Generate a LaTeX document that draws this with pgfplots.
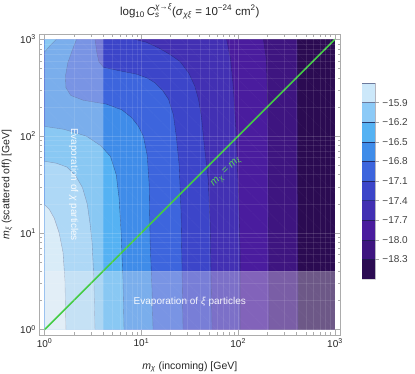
\documentclass[border=0pt]{standalone}
\usepackage{fontspec}
\setmainfont{Liberation Sans}
\usepackage{amsmath}
\usepackage{pgfplots}
\pgfplotsset{compat=1.18}
\usetikzlibrary{patterns.meta}

% band colours, lowest value first
\definecolor{b0}{HTML}{2B0B52}
\definecolor{b1}{HTML}{3E1580}
\definecolor{b2}{HTML}{4A1C9E}
\definecolor{b3}{HTML}{4230B3}
\definecolor{b4}{HTML}{3C45C9}
\definecolor{b5}{HTML}{3D65DD}
\definecolor{b6}{HTML}{3F8CE9}
\definecolor{b7}{HTML}{55B2F3}
\definecolor{b8}{HTML}{8CCAF7}
\definecolor{b9}{HTML}{CCE8FA}
\definecolor{cline}{HTML}{1E1E50}
\definecolor{mgreen}{HTML}{44CC44}

\pgfplotsset{
  cont/.style={draw=cline, draw opacity=0.55, line width=0.35pt},
  band/.style={fill=#1, draw=none},
}

\begin{document}
\begin{tikzpicture}
\useasboundingbox (-39.3pt,-39pt) rectangle (375.7pt,335pt);
\begin{axis}[
  at={(0pt,0pt)}, anchor=south west,
  width=301pt, height=301pt, scale only axis,
  xmin=-0.055, xmax=3.055, ymin=-0.055, ymax=3.055,
  xtick={0,1,2,3}, ytick={0,1,2,3},
  xticklabels={10\textsuperscript{0},10\textsuperscript{1},10\textsuperscript{2},10\textsuperscript{3}},
  yticklabels={10\textsuperscript{0},10\textsuperscript{1},10\textsuperscript{2},10\textsuperscript{3}},
  minor xtick={0.301,0.477,0.602,0.699,0.778,0.845,0.903,0.954,1.301,1.477,1.602,1.699,1.778,1.845,1.903,1.954,2.301,2.477,2.602,2.699,2.778,2.845,2.903,2.954},
  minor ytick={0.301,0.477,0.602,0.699,0.778,0.845,0.903,0.954,1.301,1.477,1.602,1.699,1.778,1.845,1.903,1.954,2.301,2.477,2.602,2.699,2.778,2.845,2.903,2.954},
  tick align=inside, major tick length=5pt, minor tick length=2.8pt,
  axis line style={gray!65}, tick style={gray!65, line width=0.4pt},
  grid=both,
  major grid style={white, opacity=0.16, line width=0.4pt},
  minor grid style={white, opacity=0.10, line width=0.3pt},
  axis on top,
  tick label style={font=\fontsize{10}{12}\selectfont, text=black!85},
  label style={font=\fontsize{10.5}{12}\selectfont, text=black!85},
  xlabel={\textit{m}\textsubscript{\textit{χ}} (incoming) [GeV]},
  ylabel={\textit{m}\textsubscript{\textit{ξ}} (scattered off) [GeV]},
  xlabel style={at={(axis description cs:0.5,-0.113)}, anchor=base},
  ylabel style={at={(axis description cs:-0.107,0.5)}, anchor=center},
  title={log\textsubscript{10}\,\textit{C}$^{\text{\textit{χ}→\textit{ξ}}}_{\text{\textit{s}}}$(\textit{σ}\textsubscript{\textit{χξ}} = 10\textsuperscript{−24} cm\textsuperscript{2})},
  title style={at={(axis description cs:0.5,1.042)}, anchor=base, font=\fontsize{11.5}{13}\selectfont, text=black!85},
]
% filled bands, painted from the lowest level upward
\addplot[band=b0] coordinates {(0,0) (3,0) (3,3) (0,3)};
\addplot[band=b1] coordinates {(0,0) (2.62,0) (2.615,1.5) (2.61,3) (0,3)};
\addplot[band=b2] coordinates {(0,0) (2.32,0) (2.31,1.9) (2.30,2.5) (2.29,2.8) (2.26,3) (0,3)};
\addplot[band=b3] coordinates {(0,0) (2.02,0) (2.02,0.8) (2.00,1.5) (1.98,2.0) (1.95,2.5) (1.92,2.8) (1.88,3) (0,3)};
\addplot[band=b4] coordinates {(0,0) (1.73,0) (1.71,1.1) (1.69,1.55) (1.65,1.9) (1.62,2.2) (1.59,2.38) (1.55,2.52) (1.49,2.65) (1.40,2.77) (1.30,2.84) (1.18,2.91) (1.05,2.97) (0.93,3) (0,3)};
\addplot[band=b5] coordinates {(0,0) (1.43,0) (1.42,0.6) (1.41,1.2) (1.39,1.7) (1.36,2.0) (1.33,2.22) (1.28,2.38) (1.22,2.47) (1.14,2.55) (1.06,2.60) (0.95,2.64) (0.75,2.68) (0.61,2.71) (0.56,2.77) (0.54,2.86) (0.52,3) (0,3)};
\addplot[band=b6] coordinates {(0,0) (1.12,0) (1.11,0.4) (1.09,0.9) (1.08,1.5) (1.06,1.8) (1.02,2.0) (0.97,2.10) (0.90,2.19) (0.80,2.27) (0.64,2.33) (0.40,2.37) (0.27,2.42) (0.22,2.5) (0.215,2.62) (0.24,2.76) (0.29,2.9) (0.33,3) (0,3)};
\addplot[band=b7] coordinates {(0,0) (0.82,0) (0.81,0.5) (0.79,1.0) (0.77,1.35) (0.74,1.6) (0.68,1.79) (0.58,1.9) (0.43,2.0) (0.2,2.07) (0,2.10)};
\addplot[band=b7] coordinates {(0,2.87) (0.06,2.94) (0.12,3) (0,3)};
\addplot[band=b8] coordinates {(0,0) (0.52,0) (0.51,0.5) (0.49,0.9) (0.47,1.09) (0.44,1.3) (0.39,1.47) (0.32,1.59) (0.23,1.68) (0.12,1.72) (0,1.74)};
\addplot[band=b9] coordinates {(0,0) (0.22,0) (0.21,0.5) (0.19,0.8) (0.15,1.0) (0.10,1.15) (0.05,1.24) (0,1.29)};
% contour lines
\addplot[cont] coordinates {(2.61,3) (2.615,1.5) (2.62,0)};
\addplot[cont] coordinates {(2.26,3) (2.29,2.8) (2.30,2.5) (2.31,1.9) (2.32,0)};
\addplot[cont] coordinates {(1.88,3) (1.92,2.8) (1.95,2.5) (1.98,2.0) (2.00,1.5) (2.02,0.8) (2.02,0)};
\addplot[cont] coordinates {(0.93,3) (1.05,2.97) (1.18,2.91) (1.30,2.84) (1.40,2.77) (1.49,2.65) (1.55,2.52) (1.59,2.38) (1.62,2.2) (1.65,1.9) (1.69,1.55) (1.71,1.1) (1.73,0)};
\addplot[cont] coordinates {(0.52,3) (0.54,2.86) (0.56,2.77) (0.61,2.71) (0.75,2.68) (0.95,2.64) (1.06,2.60) (1.14,2.55) (1.22,2.47) (1.28,2.38) (1.33,2.22) (1.36,2.0) (1.39,1.7) (1.41,1.2) (1.42,0.6) (1.43,0)};
\addplot[cont] coordinates {(0.33,3) (0.29,2.9) (0.24,2.76) (0.215,2.62) (0.22,2.5) (0.27,2.42) (0.40,2.37) (0.64,2.33) (0.80,2.27) (0.90,2.19) (0.97,2.10) (1.02,2.0) (1.06,1.8) (1.08,1.5) (1.09,0.9) (1.11,0.4) (1.12,0)};
\addplot[cont] coordinates {(0,2.10) (0.2,2.07) (0.43,2.0) (0.58,1.9) (0.68,1.79) (0.74,1.6) (0.77,1.35) (0.79,1.0) (0.81,0.5) (0.82,0)};
\addplot[cont] coordinates {(0,2.87) (0.06,2.94) (0.12,3)};
\addplot[cont] coordinates {(0,1.74) (0.12,1.72) (0.23,1.68) (0.32,1.59) (0.39,1.47) (0.44,1.3) (0.47,1.09) (0.49,0.9) (0.51,0.5) (0.52,0)};
\addplot[cont] coordinates {(0,1.29) (0.05,1.24) (0.10,1.15) (0.15,1.0) (0.19,0.8) (0.21,0.5) (0.22,0)};
% faint diagonal texture
\addplot[draw=none, pattern={Lines[angle=-45,distance=13pt,line width=0.35pt]}, pattern color=white, fill opacity=0.05] coordinates {(0,0) (3,0) (3,3) (0,3)};
% evaporation regions (m < 4 GeV)
\addplot[fill=gray!8, fill opacity=0.33, draw=none] coordinates {(0,0) (0.602,0) (0.602,3) (0,3)};
\addplot[fill=gray!8, fill opacity=0.33, draw=none] coordinates {(0,0) (3,0) (3,0.602) (0,0.602)};
% m_chi = m_xi
\addplot[mgreen, line width=1.5pt] coordinates {(0,0) (3,3)};
\node[rotate=-90, text=white, text opacity=0.9, font=\fontsize{10}{12}\selectfont] at (axis cs:0.30,1.50) {Evaporation of \textit{χ} particles};
\node[text=white, text opacity=0.9, font=\fontsize{10}{12}\selectfont] at (axis cs:1.50,0.29) {Evaporation of \textit{ξ} particles};
\node[rotate=45, text=mgreen!90!white, font=\fontsize{10.5}{12}\selectfont] at (axis cs:1.88,1.63) {\textit{m}\textsubscript{\textit{χ}} = \textit{m}\textsubscript{\textit{ξ}}};
\end{axis}

% colour bar
\begin{axis}[
  at={(322.7pt,56pt)}, anchor=south west,
  width=13.4pt, height=196pt, scale only axis,
  xmin=0, xmax=1, ymin=-18.6, ymax=-15.6,
  xtick=\empty,
  ytick={-18.3,-18.0,-17.7,-17.4,-17.1,-16.8,-16.5,-16.2,-15.9},
  yticklabels={−18.3,−18.0,−17.7,−17.4,−17.1,−16.8,−16.5,−16.2,−15.9},
  ytick pos=right, yticklabel pos=right,
  tick align=outside, major tick length=3.5pt,
  tick style={gray!70, line width=0.4pt},
  axis line style={gray!30},
  tick label style={font=\fontsize{10}{12}\selectfont, text=black!75},
]
\addplot[fill=b0, cont] coordinates {(0,-18.6) (1,-18.6) (1,-18.3) (0,-18.3)};
\addplot[fill=b1, cont] coordinates {(0,-18.3) (1,-18.3) (1,-18.0) (0,-18.0)};
\addplot[fill=b2, cont] coordinates {(0,-18.0) (1,-18.0) (1,-17.7) (0,-17.7)};
\addplot[fill=b3, cont] coordinates {(0,-17.7) (1,-17.7) (1,-17.4) (0,-17.4)};
\addplot[fill=b4, cont] coordinates {(0,-17.4) (1,-17.4) (1,-17.1) (0,-17.1)};
\addplot[fill=b5, cont] coordinates {(0,-17.1) (1,-17.1) (1,-16.8) (0,-16.8)};
\addplot[fill=b6, cont] coordinates {(0,-16.8) (1,-16.8) (1,-16.5) (0,-16.5)};
\addplot[fill=b7, cont] coordinates {(0,-16.5) (1,-16.5) (1,-16.2) (0,-16.2)};
\addplot[fill=b8, cont] coordinates {(0,-16.2) (1,-16.2) (1,-15.9) (0,-15.9)};
\addplot[fill=b9, cont] coordinates {(0,-15.9) (1,-15.9) (1,-15.6) (0,-15.6)};
\end{axis}
\end{tikzpicture}
\end{document}
